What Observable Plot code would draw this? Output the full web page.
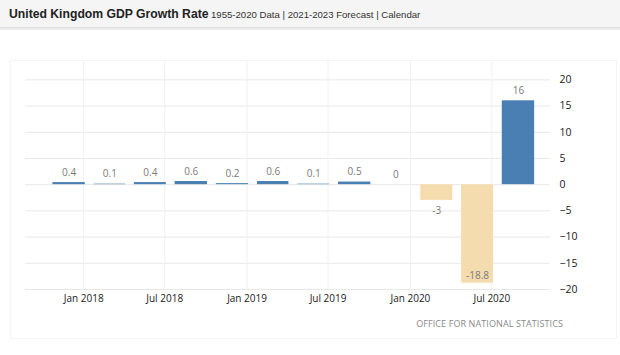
<!DOCTYPE html>
<html>
<head>
<meta charset="utf-8">
<script src="https://cdn.jsdelivr.net/npm/d3@7"></script>
<script src="https://cdn.jsdelivr.net/npm/@observablehq/plot@0.6"></script>
<style>
  html, body { margin: 0; padding: 0; background: #fff; }
  body { width: 620px; height: 355px; position: relative; overflow: hidden; }
  #header { position: absolute; left: 0; top: 0; width: 620px; height: 27px;
    background: #f5f5f5; border-bottom: 1px solid #dedede; box-shadow: 0 2px 0 #ececec; }
  #title { position: absolute; left: 9px; top: 7px; font-family: "Liberation Sans", Arial, sans-serif;
    font-weight: bold; font-size: 12.2px; color: #222; white-space: nowrap; }
  #subtitle { position: absolute; left: 211px; top: 8.5px; font-family: "Liberation Sans", Arial, sans-serif;
    font-size: 9.6px; color: #333; white-space: nowrap; }
  #panel { position: absolute; left: 10px; top: 60px; width: 605px; height: 277px; border: 1px solid #f4f4f4; }
  #chart { position: absolute; left: 0; top: 30px; }
  #caption { position: absolute; right: 57px; top: 317px; font-family: "Open Sans", sans-serif;
    font-size: 9px; color: #8a8a8a; white-space: nowrap; letter-spacing: 0.1px; }
</style>
</head>
<body>
<div id="header">
  <div id="title">United Kingdom GDP Growth Rate</div>
  <div id="subtitle">1955-2020 Data | 2021-2023 Forecast | Calendar</div>
</div>
<div id="panel"></div>
<div id="chart"></div>
<div id="caption">OFFICE FOR NATIONAL STATISTICS</div>
<script>
// Quarter start dates (Q4 2017 .. Q3 2020)
const quarterStarts = ["2017-10-01","2018-01-01","2018-04-01","2018-07-01","2018-10-01","2019-01-01",
                       "2019-04-01","2019-07-01","2019-10-01","2020-01-01","2020-04-01","2020-07-01"];
// GDP growth rate, % QoQ
const growth = [0.4, 0.1, 0.4, 0.6, 0.2, 0.6, 0.1, 0.5, 0, -3, -18.8, 16];
// Axis ticks
const xTickDates = ["2018-01-01","2018-07-01","2019-01-01","2019-07-01","2020-01-01","2020-07-01"];
const yTicks = [20, 15, 10, 5, 0, -5, -10, -15, -20];

const data = quarterStarts.map((s, i) => {
  const start = new Date(s + "T00:00:00Z");
  const end = d3.utcMonth.offset(start, 3);
  return { start, end, mid: new Date((+start + +end) / 2), value: growth[i], label: String(growth[i]) };
});
const xTicks = xTickDates.map(s => new Date(s + "T00:00:00Z"));

const chart = Plot.plot({
  width: 620,
  height: 325,
  marginLeft: 25,
  marginRight: 70,
  marginTop: 31,
  marginBottom: 66,
  style: { background: "transparent", fontFamily: "'Open Sans', sans-serif", fontSize: "10px", color: "#333" },
  x: { type: "utc", domain: [new Date("2017-08-24T00:00:00Z"), new Date("2020-11-09T00:00:00Z")] },
  y: { domain: [-20, 23.5] },
  marks: [
    Plot.gridY(yTicks, { stroke: "#e8e8e8", strokeOpacity: 1 }),
    Plot.gridX(xTicks, { stroke: "#f0f0f0", strokeOpacity: 1 }),
    Plot.rectY(data, {
      x1: "start", x2: "end", y1: 0, y2: "value",
      insetLeft: 4.4, insetRight: 4.4, dx: 6,
      fill: d => d.value < 0 ? "#f4dcae" : "#4a7fb3"
    }),
    Plot.text(data, { filter: d => d.value >= 0, x: "mid", y: "value", text: "label", dx: 6, dy: -10, fill: "#7a7a7a", fontSize: 10 }),
    Plot.text(data, { filter: d => d.value < 0 && d.value > -15, x: "mid", y: "value", text: "label", dx: 6, dy: 10, fill: "#7a7a7a", fontSize: 10 }),
    Plot.text(data, { filter: d => d.value <= -15, x: "mid", y: "value", text: "label", dx: 6, dy: -7, fill: "#7a7a7a", fontSize: 10 }),
    Plot.axisY(yTicks, { anchor: "right", tickSize: 0, tickPadding: 9, textAnchor: "start", fill: "#1a1a1a", fontSize: 10.5, label: null }),
    Plot.axisX(xTicks, { anchor: "bottom", tickSize: 0, tickPadding: 5, tickFormat: d3.utcFormat("%b %Y"), fill: "#1a1a1a", label: null })
  ]
});
document.getElementById("chart").appendChild(chart);
</script>
</body>
</html>
